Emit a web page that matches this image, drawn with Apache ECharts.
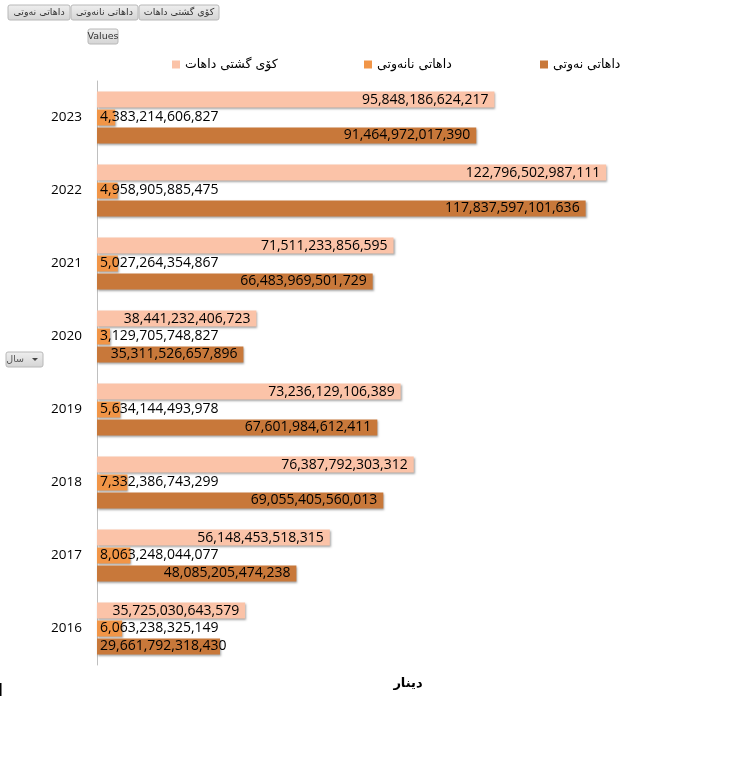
<!DOCTYPE html>
<html><head><meta charset="utf-8">
<script src="https://cdn.jsdelivr.net/npm/echarts@6/dist/echarts.min.js"></script>
<style>html,body{margin:0;padding:0;background:#fff}#c{width:747px;height:761px}</style>
</head><body><div id="c"></div>
<script>
const years = ['2016','2017','2018','2019','2020','2021','2022','2023'];
const oilRevenue = [29661792318430, 48085205474238, 69055405560013, 67601984612411, 35311526657896, 66483969501729, 117837597101636, 91464972017390];
const nonOilRevenue = [6063238325149, 8063248044077, 7332386743299, 5634144493978, 3129705748827, 5027264354867, 4958905885475, 4383214606827];
const totalRevenue = [35725030643579, 56148453518315, 76387792303312, 73236129106389, 38441232406723, 71511233856595, 122796502987111, 95848186624217];
const seriesNames = ['داهاتی نەوتی', 'داهاتی نانەوتی', 'کۆی گشتی داهات'];
const axisName = 'دینار';
const rowFieldName = 'سال';
const valuesButton = 'Values';

const XMAX = 150e12, GL = 97, GR = 28;
const plotW = 747 - GL - GR;
const fmt = v => v.toLocaleString('en-US');
const labelFont = '14px "Open Sans"';
const cv = document.createElement('canvas').getContext('2d');
cv.font = labelFont;
function items(arr, defPos) {
  return arr.map(v => {
    const barPx = v / XMAX * plotW;
    const w = cv.measureText(fmt(v)).width;
    const fits = w + 8 <= barPx;
    const pos = (defPos === 'insideRight' && !fits) ? 'insideLeft' : defPos;
    return { value: v, label: { position: pos, distance: pos === 'insideRight' ? 6 : 3 } };
  });
}
const colors = ['#C8783A', '#F19547', '#FBC3A8'];
const shadow = { shadowColor: 'rgba(0,0,0,0.35)', shadowBlur: 2, shadowOffsetX: 1, shadowOffsetY: 1.5 };
function mkSeries(name, arr, color, pos) {
  return {
    name, type: 'bar', data: items(arr, pos), barWidth: 16, barGap: '12%',
    itemStyle: Object.assign({ color }, shadow),
    label: { show: true, formatter: p => fmt(p.value), color: '#000', fontFamily: 'Open Sans', fontSize: 14 },
    emphasis: { disabled: true }
  };
}
function btn(x, y, w, h, text, fs) {
  return {
    type: 'group', x, y, children: [
      { type: 'rect', shape: { x: 0, y: 0, width: w, height: h, r: 2 },
        style: { fill: new echarts.graphic.LinearGradient(0, 0, 0, 1, [{ offset: 0, color: '#efefef' }, { offset: 1, color: '#d4d4d4' }]), stroke: '#b8b8b8', lineWidth: 1 } },
      { type: 'text', style: { x: w / 2, y: h / 2, text, align: 'center', verticalAlign: 'middle', fontSize: fs, fontFamily: 'DejaVu Sans', fill: '#333' } }
    ]
  };
}
const chart = echarts.init(document.getElementById('c'));
const legendBase = { top: 58, padding: 0, itemWidth: 8, itemHeight: 8, itemGap: 4, icon: 'rect', textStyle: { fontSize: 12.5, fontFamily: 'DejaVu Sans', color: '#000' }, selectedMode: false };
chart.setOption({
  animation: false,
  color: colors,
  grid: { left: GL, right: GR, top: 81, bottom: 96, containLabel: false },
  legend: [
    Object.assign({ left: 172, data: [seriesNames[2]] }, legendBase),
    Object.assign({ left: 364, data: [seriesNames[1]] }, legendBase),
    Object.assign({ left: 540, data: [seriesNames[0]] }, legendBase)
  ],
  xAxis: {
    type: 'value', min: 0, max: XMAX,
    axisLine: { show: false }, axisTick: { show: false }, axisLabel: { show: false }, splitLine: { show: false },
    name: axisName, nameLocation: 'middle', nameGap: 12,
    nameTextStyle: { fontWeight: 'bold', fontSize: 13, fontFamily: 'DejaVu Sans', color: '#000' }
  },
  yAxis: {
    type: 'category', data: years,
    axisLine: { show: true, lineStyle: { color: '#bfbfbf' } }, axisTick: { show: false },
    axisLabel: { color: '#000', fontSize: 13.5, fontFamily: 'Open Sans', margin: 15 }
  },
  series: [
    mkSeries(seriesNames[2], totalRevenue, colors[2], 'insideRight'),
    mkSeries(seriesNames[1], nonOilRevenue, colors[1], 'insideLeft'),
    mkSeries(seriesNames[0], oilRevenue, colors[0], 'insideRight')
  ],
  graphic: [
    btn(8, 5, 62, 15, seriesNames[0], 9.5),
    btn(71, 5, 67, 15, seriesNames[1], 9.5),
    btn(139, 5, 80, 15, seriesNames[2], 9.5),
    btn(88, 29, 30, 15, valuesButton, 9.5),
    {
      type: 'group', x: 6, y: 352, children: [
        { type: 'rect', shape: { x: 0, y: 0, width: 37, height: 15, r: 2 },
          style: { fill: new echarts.graphic.LinearGradient(0, 0, 0, 1, [{ offset: 0, color: '#efefef' }, { offset: 1, color: '#d4d4d4' }]), stroke: '#b8b8b8', lineWidth: 1 } },
        { type: 'text', style: { x: 18, y: 7.5, text: rowFieldName, align: 'right', verticalAlign: 'middle', fontSize: 9.5, fontFamily: 'DejaVu Sans', fill: '#555' } },
        { type: 'polygon', shape: { points: [[26, 6], [32, 6], [29, 9]] }, style: { fill: '#444' } }
      ]
    },
    { type: 'rect', shape: { x: 0, y: 683, width: 1.5, height: 13 }, style: { fill: '#000' } }
  ]
});
</script></body></html>
